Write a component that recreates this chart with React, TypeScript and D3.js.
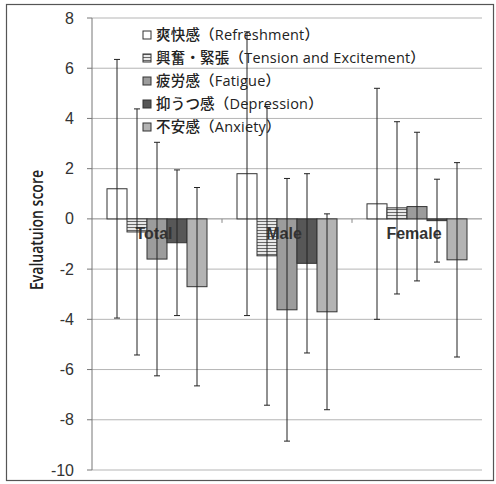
import * as d3 from "d3";

const categories = ["Total", "Male", "Female"];
const seriesNames = [
  "爽快感（Refreshment）",
  "興奮・緊張（Tension and Excitement）",
  "疲労感（Fatigue）",
  "抑うつ感（Depression）",
  "不安感（Anxiety）",
];
// means per series: [Total, Male, Female]
const refreshment = [1.2, 1.8, 0.6];
const tension = [-0.52, -1.47, 0.44];
const fatigue = [-1.6, -3.62, 0.49];
const depression = [-0.95, -1.77, -0.07];
const anxiety = [-2.7, -3.7, -1.63];
// standard deviations per series
const refreshmentSd = [5.15, 5.65, 4.6];
const tensionSd = [4.9, 5.95, 3.43];
const fatigueSd = [4.65, 5.23, 2.96];
const depressionSd = [2.9, 3.57, 1.65];
const anxietySd = [3.95, 3.9, 3.87];
const yTicks = [8, 6, 4, 2, 0, -2, -4, -6, -8, -10];

const means = [refreshment, tension, fatigue, depression, anxiety];
const sds = [refreshmentSd, tensionSd, fatigueSd, depressionSd, anxietySd];
const fills = ["#ffffff", "url(#stripes)", "#9c9c9c", "#575757", "#b3b3b3"];

const W = 496;
const H = 484;
const plot = { left: 92, right: 482, top: 18, bottom: 470 };

export default function App() {
  const x0 = d3.scaleBand().domain(categories).range([plot.left, plot.right]).paddingInner(0).paddingOuter(0);
  const x1 = d3
    .scaleBand()
    .domain(seriesNames)
    .range([0, x0.bandwidth()])
    .paddingOuter(0.75)
    .paddingInner(0);
  const y = d3.scaleLinear().domain([-10, 8]).range([plot.bottom, plot.top]);
  const bw = x1.bandwidth();

  return (
    <svg
      width={W}
      height={H}
      style={{ position: "absolute", left: 0, top: 0, background: "#fff" }}
      fontFamily="Arial, 'Liberation Sans', sans-serif"
    >
      <defs>
        <pattern id="stripes" width="4" height="3" patternUnits="userSpaceOnUse">
          <rect width="4" height="3" fill="#e8e8e8" />
          <rect y="2" width="4" height="1" fill="#6a6a6a" />
        </pattern>
      </defs>
      <rect x={6.5} y={4.5} width={487} height={476} fill="none" stroke="#555" strokeWidth={1.2} />

      {/* grid + y axis */}
      {yTicks.map((t) => (
        <g key={t}>
          <line x1={plot.left} x2={plot.right} y1={y(t)} y2={y(t)} stroke={t === 0 ? "#888" : "#b5b5b5"} strokeWidth={1} />
          <line x1={plot.left - 5} x2={plot.left} y1={y(t)} y2={y(t)} stroke="#777" />
          <text x={74} y={y(t) + 5.5} textAnchor="end" fontSize={16} fill="#333">
            {t}
          </text>
        </g>
      ))}
      <line x1={plot.left} x2={plot.left} y1={plot.top} y2={plot.bottom} stroke="#777" />
      {categories.slice(1).map((c) => (
        <line key={c} x1={x0(c)!} x2={x0(c)!} y1={y(0)} y2={y(0) + 4} stroke="#888" />
      ))}

      <text
        transform={`translate(43, 230) rotate(-90)`}
        textAnchor="middle"
        fontSize={18}
        fontWeight={600}
        textLength={120}
        lengthAdjust="spacingAndGlyphs"
        fontFamily="'Open Sans', sans-serif"
        fill="#222"
      >
        Evaluatuion score
      </text>

      {/* bars */}
      {means.map((vals, si) =>
        vals.map((v, ci) => {
          const bx = x0(categories[ci])! + x1(seriesNames[si])!;
          return (
            <rect
              key={`${si}-${ci}`}
              x={bx}
              y={y(Math.max(v, 0))}
              width={bw}
              height={Math.abs(y(v) - y(0))}
              fill={fills[si]}
              stroke="#333"
              strokeWidth={1}
            />
          );
        })
      )}

      {/* category labels */}
      {categories.map((c) => (
        <text key={c} x={x0(c)! + x0.bandwidth() / 2 - 3} y={y(0) + 20} textAnchor="middle" fontSize={16} fontWeight="bold" fill="#333">
          {c}
        </text>
      ))}

      {/* error bars */}
      {means.map((vals, si) =>
        vals.map((v, ci) => {
          const cx = x0(categories[ci])! + x1(seriesNames[si])! + bw / 2;
          const hi = y(v + sds[si][ci]);
          const lo = y(v - sds[si][ci]);
          return (
            <g key={`e${si}-${ci}`} stroke="#222" strokeWidth={1}>
              <line x1={cx} x2={cx} y1={hi} y2={lo} />
              <line x1={cx - 3} x2={cx + 3} y1={hi} y2={hi} />
              <line x1={cx - 3} x2={cx + 3} y1={lo} y2={lo} />
            </g>
          );
        })
      )}

      {/* legend */}
      {seriesNames.map((s, i) => (
        <g key={s} transform={`translate(143, ${35 + i * 23})`}>
          <rect x={0} y={-4} width={8} height={8} fill={fills[i]} stroke="#333" />
          <text
            x={13}
            y={5}
            fontSize={14.5}
            fontWeight={500}
            letterSpacing={0.2}
            fontFamily="'Open Sans', 'Noto Sans CJK JP', sans-serif"
            fill="#222"
          >
            {s}
          </text>
        </g>
      ))}
    </svg>
  );
}
